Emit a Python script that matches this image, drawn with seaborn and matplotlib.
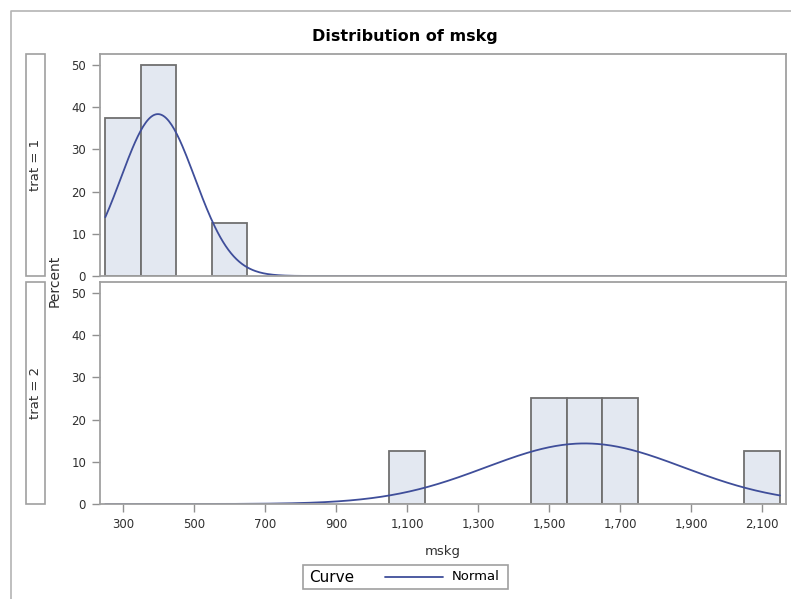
import matplotlib
matplotlib.use('Agg')

import matplotlib.pyplot as plt
import numpy as np
import seaborn as sns
from matplotlib.lines import Line2D
from matplotlib.patches import Rectangle
from matplotlib.ticker import FuncFormatter

# bin midpoints (width 100) and percent per group
bin_edges = [250, 350, 450, 550, 650, 750, 850, 950, 1050, 1150, 1250, 1350,
             1450, 1550, 1650, 1750, 1850, 1950, 2050, 2150]
mid_trat1 = [300, 400, 600]
pct_trat1 = [37.5, 50.0, 12.5]
mid_trat2 = [1100, 1500, 1600, 1700, 2100]
pct_trat2 = [12.5, 25.0, 25.0, 25.0, 12.5]

# fitted normal (mean, std)
normal_trat1 = (398, 104)
normal_trat2 = (1600, 278)

group_labels = ["trat = 1", "trat = 2"]
x_ticks = [300, 500, 700, 900, 1100, 1300, 1500, 1700, 1900, 2100]
y_ticks = [0, 10, 20, 30, 40, 50]

W, H = 791, 599
FILL = "#E3E8F1"
EDGE = "#707070"
CURVE = "#3F4E9A"
FRAME = "#A0A0A0"
TXT = "#303030"

sns.set_style("white")
plt.rcParams['font.family'] = ['DejaVu Sans']

fig = plt.figure(figsize=(W / 100, H / 100), dpi=100)


def px(x0, y0, x1, y1):
    # pixel box (top-left origin) -> figure rect
    return [x0 / W, 1 - y1 / H, (x1 - x0) / W, (y1 - y0) / H]


def normal_pct(xs, mu, sd):
    return 100 * 100 * np.exp(-0.5 * ((xs - mu) / sd) ** 2) / (sd * np.sqrt(2 * np.pi))


panels = [(54, 276, mid_trat1, pct_trat1, normal_trat1),
          (282, 504, mid_trat2, pct_trat2, normal_trat2)]

curve_x = np.linspace(bin_edges[0], bin_edges[-1], 500)
axes = []
for i, (top, bot, mids, pcts, (mu, sd)) in enumerate(panels):
    ax = fig.add_axes(px(100, top, 786, bot))
    sns.histplot(x=mids, weights=pcts, bins=bin_edges, ax=ax, color=FILL,
                 edgecolor=EDGE, linewidth=1.3, alpha=1)
    for p in ax.patches:
        if p.get_height() == 0:
            p.set_visible(False)
    sns.lineplot(x=curve_x, y=normal_pct(curve_x, mu, sd), ax=ax,
                 color=CURVE, linewidth=1.3)
    ax.set_xlim(235, 2167)
    ax.set_ylim(0, 52.6)
    ax.set_yticks(y_ticks)
    ax.set_xticks(x_ticks)
    ax.set_xlabel("")
    ax.set_ylabel("")
    for s in ax.spines.values():
        s.set_color(FRAME)
        s.set_linewidth(1.3)
    ax.tick_params(axis='y', length=6, width=1, color="#909090", labelsize=8.5,
                   labelcolor=TXT, left=True, pad=4)
    if i == 0:
        ax.tick_params(axis='x', bottom=False, labelbottom=False)
    else:
        ax.tick_params(axis='x', length=6, width=1, color="#909090", labelsize=8.5,
                       labelcolor=TXT, bottom=True, pad=4)
        ax.xaxis.set_major_formatter(FuncFormatter(lambda v, p: f"{int(v):,}"))
    axes.append(ax)

    # row header box
    x0, x1 = 26, 45
    fig.patches.append(Rectangle((x0 / W, 1 - bot / H), (x1 - x0) / W, (bot - top) / H,
                                 transform=fig.transFigure, facecolor="white",
                                 edgecolor=FRAME, linewidth=1.2))
    fig.text((x0 + x1) / 2 / W, 1 - (top + bot) / 2 / H, group_labels[i],
             rotation=90, ha='center', va='center', fontsize=9.5, color=TXT)

# outer frame (left and top edges only)
fig.add_artist(Line2D([11 / W, 11 / W, 1], [0, 1 - 11 / H, 1 - 11 / H],
                      transform=fig.transFigure, color="#B4B4B4", linewidth=1.2))

fig.text(405 / W, 1 - 36 / H, "Distribution of mskg", ha='center', va='center',
         fontsize=11.5, fontweight='bold', color="black")
fig.text(55 / W, 1 - 281 / H, "Percent", rotation=90, ha='center', va='center',
         fontsize=10, color=TXT)
fig.text(443 / W, 1 - 552 / H, "mskg", ha='center', va='center',
         fontsize=9.5, color=TXT)

# legend box
fig.patches.append(Rectangle((303 / W, 1 - 589 / H), 205 / W, 24 / H,
                             transform=fig.transFigure, facecolor="white",
                             edgecolor=FRAME, linewidth=1.2))
fig.text(309 / W, 1 - 577 / H, "Curve", ha='left', va='center', fontsize=11, color="black")
fig.add_artist(Line2D([385 / W, 443 / W], [1 - 577 / H, 1 - 577 / H],
                      transform=fig.transFigure, color=CURVE, linewidth=1.3))
fig.text(452 / W, 1 - 577 / H, "Normal", ha='left', va='center', fontsize=9.5, color="black")

fig.savefig("out.png", dpi=100)
plt.close()
